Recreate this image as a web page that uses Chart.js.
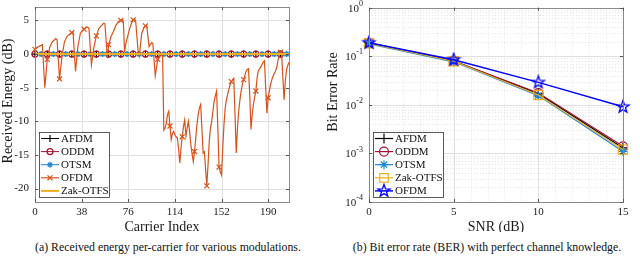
<!DOCTYPE html>
<html>
<head>
<meta charset="utf-8">
<script src="https://cdn.jsdelivr.net/npm/chart.js@4/dist/chart.umd.min.js"></script>
<style>
    html, body { margin: 0; padding: 0; background: #fff; }
    #wrap { position: relative; width: 640px; height: 257px; overflow: hidden; }
    .panel { position: absolute; top: 0; width: 320px; height: 232px; }
    .cap { position: absolute; top: 240px; font-family: "Liberation Serif", serif; font-size: 11.8px;
           color: #111; white-space: nowrap; transform: translateX(-50%); }
    .preload { position: absolute; left: -999px; font-family: "Liberation Serif"; }
</style>
</head>
<body>
<div id="wrap">
    <div class="panel" style="left:0"><canvas id="energyChart" width="320" height="232"></canvas></div>
    <div class="panel" style="left:320px"><canvas id="berChart" width="320" height="232"></canvas></div>
    <div class="cap" style="left:168px">(a) Received energy per-carrier for various modulations.</div>
    <div class="cap" style="left:487px">(b) Bit error rate (BER) with perfect channel knowledge.</div>
</div>
<span class="preload">0123456789 AFDM Carrier</span>
<script>
// ---- (a) received energy per carrier ----
const carrierTicks = [0, 38, 76, 114, 152, 190];
const energyTicks = [5, 0, -5, -10, -15, -20];

const afdmIdx = [0, 10, 20, 30, 40, 50, 60, 70, 80, 90, 100, 110, 120, 130, 140, 150, 160, 170, 180, 190, 200, 207];
const afdmDb  = [0, 0, 0, 0, 0, 0, 0, 0, 0, 0, 0, 0, 0, 0, 0, 0, 0, 0, 0, 0, 0, 0];
const oddmIdx = [0, 10, 20, 30, 40, 50, 60, 70, 80, 90, 100, 110, 120, 130, 140, 150, 160, 170, 180, 190, 200, 207];
const oddmDb  = [0, 0, 0, 0, 0, 0, 0, 0, 0, 0, 0, 0, 0, 0, 0, 0, 0, 0, 0, 0, 0, 0];
const otsmIdx = [0, 5, 15, 25, 35, 45, 55, 65, 75, 85, 95, 105, 115, 125, 135, 145, 155, 165, 175, 185, 195, 205, 207];
const otsmDb  = [0, 0, 0, 0, 0, 0, 0, 0, 0, 0, 0, 0, 0, 0, 0, 0, 0, 0, 0, 0, 0, 0, 0];
const zakIdx = [0, 207];
const zakDb  = [0, 0];

const ofdmIdx = [
    0, 2, 6, 8, 10, 12, 14, 17, 18, 20,
    22, 24, 26, 28, 30, 31, 33, 35, 37, 39,
    40, 42, 43, 44, 46, 48, 50, 52, 54, 56,
    57, 59, 60, 62, 64, 66, 68, 70, 71, 72,
    73, 74, 76, 78, 80, 81, 82, 84, 85, 87,
    89, 90, 91, 93, 95, 96, 98, 100, 102, 104,
    105, 106, 107, 108, 109, 110, 111, 112, 113, 114,
    115, 116, 117, 118, 119, 120, 121, 122, 123, 124,
    125, 126, 127, 128, 129, 130, 131, 132, 133, 134,
    135, 136, 137, 138, 139, 140, 141, 142, 143, 144,
    145, 146, 147, 148, 149, 150, 151, 152, 153, 154,
    155, 156, 157, 158, 159, 160, 161, 162, 163, 164,
    165, 166, 167, 168, 169, 170, 171, 172, 173, 174,
    175, 176, 177, 178, 179, 180, 181, 182, 184, 186,
    187, 188, 189, 190, 191, 192, 193, 194, 195, 196,
    197, 198, 199, 200, 201, 202, 203, 204, 205, 206,
    207
];
const ofdmDb = [
    0.7, 1.0, 1.4, -5.0, -0.8, 1.0, 1.8, 2.3, 2.1, -3.7,
    -0.3, 1.8, 2.6, 2.9, 3.2, 3.3, -2.6, 1.2, 3.1, 3.6,
    3.7, 4.0, 4.0, 3.8, -1.6, 1.0, 2.7, 3.8, 4.2, 4.6,
    4.5, -0.6, 1.4, 2.6, 3.4, 4.3, 4.85, 5.0, 5.1, 4.9,
    0.3, 1.5, 3.0, 4.3, 5.1, 5.2, 5.0, 0.5, -0.3, 3.1,
    4.0, 4.2, 4.3, 1.1, 1.7, 1.6, -3.2, -0.8, -0.1, -0.3,
    -11.3, -11.0, -10.3, -9.0, -8.5, -10.7, -12.7, -11.8, -11.5, -12.0,
    -12.3, -12.5, -14.0, -16.2, -14.0, -12.3, -10.8, -9.8, -12.2, -11.0,
    -10.0, -11.5, -13.5, -14.8, -16.0, -14.5, -12.5, -10.5, -9.0, -8.0,
    -7.5, -11.0, -14.7, -14.5, -17.0, -19.6, -16.5, -13.0, -11.0, -10.0,
    -8.5, -7.0, -6.2, -5.5, -11.0, -16.8, -17.5, -18.0, -14.0, -10.5,
    -8.0, -6.8, -6.0, -5.2, -4.6, -4.1, -3.8, -3.6, -9.0, -14.7,
    -11.0, -8.5, -6.8, -5.5, -4.5, -3.8, -3.2, -2.6, -2.3, -2.2,
    -6.0, -11.2, -9.0, -7.5, -6.4, -5.5, -3.5, -2.5, -1.9, -1.2,
    -1.0, -5.0, -8.8, -6.5, -5.5, -4.5, -3.8, -3.3, -2.9, -2.5,
    -2.0, -1.0, -0.2, 0.3, 0.2, -3.5, -6.8, -4.0, -2.3, -1.7,
    -1.2
];

// ---- (b) bit error rate ----
const snrDb = [0, 5, 10, 15];
const snrTicks = [0, 5, 10, 15];
const berTicks = [1, 0.1, 0.01, 0.001, 0.0001];
const berTickExp = ['0', '-1', '-2', '-3', '-4'];
const berAfdm = [0.19, 0.080, 0.017, 0.0013];
const berOddm = [0.19, 0.080, 0.0175, 0.0014];
const berOtsm = [0.18, 0.077, 0.0155, 0.0011];
const berZak  = [0.185, 0.079, 0.016, 0.0012];
const berOfdm = [0.19, 0.085, 0.029, 0.0091];

const C_AFDM = '#000000';
const C_ODDM = '#A2142F';
const C_OTSM = '#1F86CF';
const C_OFDM = '#D95319';
const C_ZAK  = '#EDB120';
const C_BLUE = '#0000FF';
const FONT = '"Liberation Serif", serif';

const toPoints = (xs, ys) => xs.map((x, i) => ({ x: x, y: ys[i] }));

// pentagram marker for OFDM in (b)
function makePentagram(r, color) {
    const c = document.createElement('canvas');
    const s = Math.ceil(r * 2 + 3);
    c.width = s; c.height = s;
    const g = c.getContext('2d');
    g.beginPath();
    for (let k = 0; k < 10; k++) {
        const rr = k % 2 === 0 ? r : r * 0.4;
        const ang = -Math.PI / 2 + k * Math.PI / 5;
        const px = s / 2 + rr * Math.cos(ang), py = s / 2 + rr * Math.sin(ang);
        if (k === 0) g.moveTo(px, py); else g.lineTo(px, py);
    }
    g.closePath();
    g.strokeStyle = color;
    g.lineWidth = 1.3;
    g.stroke();
    return c;
}
const pentagram = makePentagram(6.5, C_BLUE);

function hline(ctx, py, a) {
    py = Math.round(py) + 0.5;
    ctx.beginPath(); ctx.moveTo(a.left, py); ctx.lineTo(a.right, py); ctx.stroke();
}
function vline(ctx, px, a) {
    px = Math.round(px) + 0.5;
    ctx.beginPath(); ctx.moveTo(px, a.top); ctx.lineTo(px, a.bottom); ctx.stroke();
}

function axesPlugin(spec) {
    return {
        id: 'matlabAxes',
        beforeDatasetsDraw(chart) {
            const { ctx, chartArea: a, scales } = chart;
            ctx.save();
            ctx.lineWidth = 1;
            if (spec.minorX || spec.minorY) {
                ctx.strokeStyle = '#e6e6e6';
                ctx.setLineDash([1, 2]);
                (spec.minorX || []).forEach(v => vline(ctx, scales.x.getPixelForValue(v), a));
                (spec.minorY || []).forEach(v => hline(ctx, scales.y.getPixelForValue(v), a));
                ctx.setLineDash([]);
            }
            ctx.strokeStyle = '#e0e0e0';
            spec.xTicks.forEach(v => vline(ctx, scales.x.getPixelForValue(v), a));
            spec.yTicks.forEach(v => hline(ctx, scales.y.getPixelForValue(v), a));
            ctx.restore();
        },
        afterDatasetsDraw(chart) {
            const { ctx, chartArea: a, scales } = chart;
            ctx.save();
            // box
            ctx.strokeStyle = '#8a8a8a';
            ctx.lineWidth = 1;
            ctx.strokeRect(Math.round(a.left) + 0.5, Math.round(a.top) + 0.5,
                Math.round(a.right - a.left), Math.round(a.bottom - a.top));
            // inward tick marks on all sides
            ctx.strokeStyle = '#555';
            spec.xTicks.forEach(v => {
                const px = Math.round(scales.x.getPixelForValue(v)) + 0.5;
                ctx.beginPath();
                ctx.moveTo(px, a.bottom); ctx.lineTo(px, a.bottom - 3);
                ctx.moveTo(px, a.top); ctx.lineTo(px, a.top + 3);
                ctx.stroke();
            });
            spec.yTicks.forEach(v => {
                const py = Math.round(scales.y.getPixelForValue(v)) + 0.5;
                ctx.beginPath();
                ctx.moveTo(a.left, py); ctx.lineTo(a.left + 3, py);
                ctx.moveTo(a.right, py); ctx.lineTo(a.right - 3, py);
                ctx.stroke();
            });
            // tick labels
            ctx.fillStyle = '#1a1a1a';
            ctx.font = '11px ' + FONT;
            ctx.textAlign = 'center';
            ctx.textBaseline = 'middle';
            spec.xTicks.forEach(v => ctx.fillText(String(v), scales.x.getPixelForValue(v), a.bottom + 10));
            spec.yTicks.forEach((v, i) => {
                const py = scales.y.getPixelForValue(v);
                const right = a.left - 6;
                if (spec.yExp) {
                    ctx.font = '8px ' + FONT;
                    const ew = ctx.measureText(spec.yExp[i]).width;
                    ctx.textAlign = 'right';
                    ctx.fillText(spec.yExp[i], right, py - 4);
                    ctx.font = '11px ' + FONT;
                    ctx.fillText('10', right - ew, py + 1);
                } else {
                    ctx.textAlign = 'right';
                    ctx.fillText(String(v), right, py);
                }
            });
            // axis titles
            ctx.font = '14px ' + FONT;
            ctx.textAlign = 'center';
            ctx.fillText(spec.xTitle, (a.left + a.right) / 2, a.bottom + 25);
            ctx.save();
            ctx.translate(spec.yTitleX, spec.yTitleY);
            ctx.rotate(-Math.PI / 2);
            ctx.fillText(spec.yTitle, 0, 0);
            ctx.restore();
            // legend
            const lg = spec.legend;
            ctx.fillStyle = '#fff';
            ctx.fillRect(lg.x, lg.y, lg.w, lg.h);
            ctx.strokeStyle = '#333';
            ctx.lineWidth = 0.8;
            ctx.strokeRect(lg.x + 0.5, lg.y + 0.5, lg.w, lg.h);
            lg.items.forEach((it, i) => {
                const cy = lg.y + 6.5 + i * 13.1;
                ctx.strokeStyle = it.color;
                ctx.lineWidth = it.lineWidth;
                ctx.beginPath();
                ctx.moveTo(lg.x + 2, cy); ctx.lineTo(lg.x + 20, cy);
                ctx.stroke();
                if (it.pointStyle) {
                    ctx.lineWidth = 1.2;
                    ctx.fillStyle = it.fill || 'rgba(0,0,0,0)';
                    Chart.helpers.drawPoint(ctx, { pointStyle: it.pointStyle, radius: it.radius, borderWidth: 1.2, rotation: 0 }, lg.x + 11, cy);
                }
                ctx.fillStyle = '#111';
                ctx.font = '11px ' + FONT;
                ctx.textAlign = 'left';
                ctx.fillText(it.label, lg.x + 22, cy + 0.5);
            });
            ctx.restore();
        }
    };
}

const every10 = r => c => (c.raw && c.raw.x % 10 === 0 && c.raw.x <= 200) ? r : 0;

const energySpec = {
    xTicks: carrierTicks, yTicks: energyTicks,
    xTitle: 'Carrier Index', yTitle: 'Received Energy (dB)', yTitleX: 8, yTitleY: 101,
    legend: {
        x: 39, y: 132, w: 70, h: 65,
        items: [
            { label: 'AFDM', color: C_AFDM, lineWidth: 1, pointStyle: 'cross', radius: 3.5 },
            { label: 'ODDM', color: C_ODDM, lineWidth: 1, pointStyle: 'circle', radius: 3 },
            { label: 'OTSM', color: C_OTSM, lineWidth: 1, pointStyle: 'star', radius: 3 },
            { label: 'OFDM', color: C_OFDM, lineWidth: 1.2, pointStyle: 'crossRot', radius: 3.5 },
            { label: 'Zak-OTFS', color: C_ZAK, lineWidth: 2 }
        ]
    }
};

const minorSnr = [];
for (let v = 1; v < 15; v++) if (v % 5 !== 0) minorSnr.push(v);
const minorBer = [];
for (let d = -4; d < 0; d++) for (let m = 2; m <= 9; m++) minorBer.push(m * Math.pow(10, d));

const berSpec = {
    xTicks: snrTicks, yTicks: berTicks, yExp: berTickExp,
    minorX: minorSnr, minorY: minorBer,
    xTitle: 'SNR (dB)', yTitle: 'Bit Error Rate', yTitleX: 13, yTitleY: 92,
    legend: {
        x: 53, y: 132, w: 70, h: 65,
        items: [
            { label: 'AFDM', color: C_AFDM, lineWidth: 1.2, pointStyle: 'cross', radius: 5 },
            { label: 'ODDM', color: C_ODDM, lineWidth: 1.2, pointStyle: 'circle', radius: 4.5 },
            { label: 'OTSM', color: C_OTSM, lineWidth: 1.2, pointStyle: 'star', radius: 4.5 },
            { label: 'Zak-OTFS', color: C_ZAK, lineWidth: 1.2, pointStyle: 'rect', radius: 6 },
            { label: 'OFDM', color: C_BLUE, lineWidth: 1.5, pointStyle: pentagram, radius: 6 }
        ]
    }
};

function drawCharts() {
    new Chart(document.getElementById('energyChart'), {
        type: 'line',
        data: {
            datasets: [
                { label: 'AFDM', data: toPoints(afdmIdx, afdmDb), order: 4, borderColor: C_AFDM, borderWidth: 1,
                  pointStyle: 'cross', pointRadius: every10(3.5), pointBorderWidth: 1.2, pointBorderColor: C_AFDM },
                { label: 'ODDM', data: toPoints(oddmIdx, oddmDb), order: 3, borderColor: C_ODDM, borderWidth: 1,
                  pointStyle: 'circle', pointRadius: every10(3), pointBorderWidth: 1.2, pointBorderColor: C_ODDM,
                  pointBackgroundColor: 'rgba(0,0,0,0)' },
                { label: 'OTSM', data: toPoints(otsmIdx, otsmDb), order: 2, borderColor: C_OTSM, borderWidth: 1,
                  pointStyle: 'star', pointRadius: c => (c.raw && c.raw.x % 10 === 5) ? 3 : 0,
                  pointBorderWidth: 1.5, pointBorderColor: C_OTSM },
                { label: 'OFDM', data: toPoints(ofdmIdx, ofdmDb), order: 1, borderColor: C_OFDM, borderWidth: 1.2,
                  pointStyle: 'crossRot', pointRadius: every10(3.5), pointBorderWidth: 1.2, pointBorderColor: C_OFDM },
                { label: 'Zak-OTFS', data: toPoints(zakIdx, zakDb), order: 0, borderColor: C_ZAK, borderWidth: 2,
                  pointRadius: 0 }
            ]
        },
        options: {
            responsive: false,
            animation: false,
            layout: { padding: { left: 35, top: 7, right: 31, bottom: 30 } },
            elements: { line: { tension: 0 } },
            datasets: { line: { clip: false } },
            plugins: { legend: { display: false }, tooltip: { enabled: false } },
            scales: {
                x: { type: 'linear', min: 0, max: 207, display: false },
                y: { type: 'linear', min: -22, max: 7, display: false }
            }
        },
        plugins: [axesPlugin(energySpec)]
    });

    new Chart(document.getElementById('berChart'), {
        type: 'line',
        data: {
            datasets: [
                { label: 'OFDM', data: toPoints(snrDb, berOfdm), order: 0, borderColor: C_BLUE, borderWidth: 1.5,
                  pointStyle: pentagram, pointRadius: 6 },
                { label: 'Zak-OTFS', data: toPoints(snrDb, berZak), order: 1, borderColor: C_ZAK, borderWidth: 1.2,
                  pointStyle: 'rect', pointRadius: 6.5, pointBorderWidth: 1.2, pointBorderColor: C_ZAK,
                  pointBackgroundColor: 'rgba(0,0,0,0)' },
                { label: 'OTSM', data: toPoints(snrDb, berOtsm), order: 2, borderColor: C_OTSM, borderWidth: 1.2,
                  pointStyle: 'star', pointRadius: 4.5, pointBorderWidth: 1.2, pointBorderColor: C_OTSM },
                { label: 'ODDM', data: toPoints(snrDb, berOddm), order: 3, borderColor: C_ODDM, borderWidth: 1.2,
                  pointStyle: 'circle', pointRadius: 4.5, pointBorderWidth: 1.2, pointBorderColor: C_ODDM,
                  pointBackgroundColor: 'rgba(0,0,0,0)' },
                { label: 'AFDM', data: toPoints(snrDb, berAfdm), order: 4, borderColor: C_AFDM, borderWidth: 1.2,
                  pointStyle: 'cross', pointRadius: 5, pointBorderWidth: 1.2, pointBorderColor: C_AFDM }
            ]
        },
        options: {
            responsive: false,
            animation: false,
            layout: { padding: { left: 49, top: 7, right: 17, bottom: 30 } },
            elements: { line: { tension: 0 } },
            datasets: { line: { clip: false } },
            plugins: { legend: { display: false }, tooltip: { enabled: false } },
            scales: {
                x: { type: 'linear', min: 0, max: 15, display: false },
                y: { type: 'logarithmic', min: 0.0001, max: 1, display: false }
            }
        },
        plugins: [axesPlugin(berSpec)]
    });
}

// make sure the serif face is ready before the canvases draw text
Promise.all([
    document.fonts.load('11px "Liberation Serif"'),
    document.fonts.load('14px "Liberation Serif"')
]).then(drawCharts, drawCharts);
</script>
</body>
</html>
